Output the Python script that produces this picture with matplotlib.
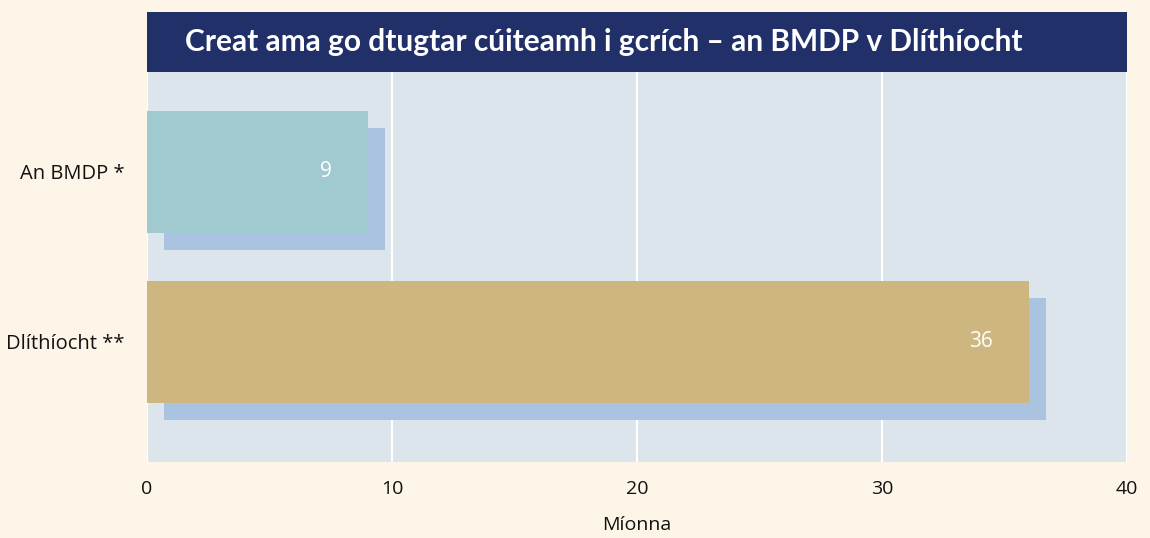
import matplotlib
matplotlib.use("Agg")
import matplotlib.pyplot as plt
import matplotlib.transforms as mtransforms
from matplotlib.patches import Rectangle

categories = ["An BMDP *", "Dlíthíocht **"]
values = [9, 36]
bar_colors = ["#A0C9D0", "#CEB680"]
xticks = [0, 10, 20, 30, 40]
title = "Creat ama go dtugtar cúiteamh i gcrích – an BMDP v Dlíthíocht"
xlabel = "Míonna"

BG = "#FDF5E7"
PLOT_BG = "#DDE5EC"
SHADOW = "#A9C3E0"
NAVY = "#213068"

W, H = 1150, 538
fig = plt.figure(figsize=(W / 100, H / 100), dpi=100, facecolor=BG)
ax = fig.add_axes([147 / W, 1 - 462 / H, (1127 - 147) / W, (462 - 72) / H])
ax.set_facecolor(PLOT_BG)

ypos = list(range(len(categories)))
bh = 0.718
shadow_tr = ax.transData + mtransforms.ScaledTranslation(17 / 100, -17 / 100, fig.dpi_scale_trans)
ax.barh(ypos, values, height=bh, color=SHADOW, transform=shadow_tr, zorder=2)
ax.barh(ypos, values, height=bh, color=bar_colors, zorder=3)

for y, v in zip(ypos, values):
    ax.annotate(str(v), xy=(v, y), xytext=(-26, 0), textcoords="offset points",
                color="white", fontsize=15, family="Open Sans",
                ha="right", va="center", zorder=4)

ax.set_xlim(0, 40)
ax.set_ylim(1.706, -0.588)
ax.set_xticks(xticks)
ax.set_xticklabels([str(t) for t in xticks], fontsize=14, family="Open Sans", color="#111111")
ax.set_yticks(ypos)
ax.set_yticklabels(categories, fontsize=14.5, family="Open Sans", color="#111111")
ax.tick_params(axis="both", length=0)
ax.tick_params(axis="x", pad=13)
ax.tick_params(axis="y", pad=16)
ax.xaxis.grid(True, color="white", linewidth=1.5, zorder=1)
ax.set_axisbelow(True)
for s in ax.spines.values():
    s.set_visible(False)

ax.set_xlabel(xlabel, fontsize=14, family="Open Sans", color="#111111", labelpad=13)

# title box
fig.patches.append(Rectangle((147 / W, 1 - 72 / H), (1127 - 147) / W, 60 / H,
                             transform=fig.transFigure, facecolor=NAVY, edgecolor="none"))
fig.text(185 / W, 1 - 42 / H, title, color="white", fontsize=21.5, fontweight="bold",
         family="Lato", ha="left", va="center")

fig.savefig("out.png", dpi=100, facecolor=BG)
